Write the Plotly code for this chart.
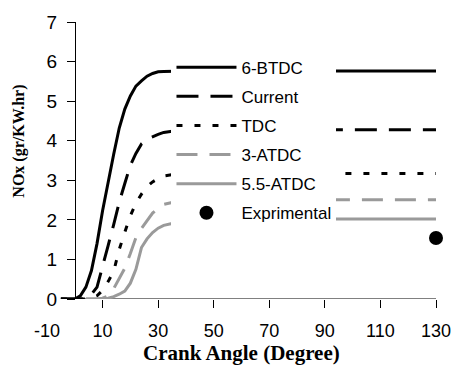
import plotly.graph_objects as go

# Crank angle grid (degrees) shared by the simulated curves
crank_angle = [-5, 0, 2, 4, 6, 8, 10, 12, 14, 16, 18, 20, 22, 24, 26, 28,
               30, 32, 35, 40, 50, 60, 80, 100, 130]

# Cumulative NOx (gr/KW.hr) for each injection timing
nox_6_btdc = [0, 0, 0.08, 0.3, 0.72, 1.4, 2.23, 2.98, 3.66, 4.32, 4.8, 5.13,
              5.38, 5.51, 5.63, 5.7, 5.74, 5.75, 5.76, 5.76, 5.76, 5.76,
              5.76, 5.76, 5.76]
nox_current = [0, 0, 0, 0.02, 0.12, 0.3, 0.8, 1.35, 1.88, 2.45, 2.92, 3.38,
               3.68, 3.92, 4.04, 4.11, 4.16, 4.21, 4.24, 4.26, 4.28, 4.28,
               4.28, 4.28, 4.28]
nox_tdc = [0, 0, 0, 0, 0.02, 0.08, 0.22, 0.44, 0.7, 1.25, 1.69, 2.1, 2.42,
           2.65, 2.84, 2.96, 3.04, 3.11, 3.14, 3.16, 3.17, 3.17, 3.17, 3.17,
           3.17]
nox_3_atdc = [None, None, None, 0, 0, 0, 0.02, 0.08, 0.26, 0.52, 0.78, 1.15,
              1.55, 1.78, 1.98, 2.17, 2.29, 2.39, 2.44, 2.48, 2.51, 2.51,
              2.51, 2.51, 2.51]
nox_5_5_atdc = [None, None, None, 0, 0, 0, 0, 0.02, 0.06, 0.12, 0.2, 0.4,
                0.75, 1.3, 1.52, 1.68, 1.79, 1.86, 1.91, 1.96, 2.0, 2.02,
                2.02, 2.02, 2.02]

# Measured value at the end of the cycle
exp_angle = [130]
exp_nox = [1.54]

x_ticks = [-10, 10, 30, 50, 70, 90, 110, 130]
x_tick_labels = ["-10", "10", "30", "50", "70", "90", "110", "130"]
x_tick_marks = [10, 30, 50, 70, 90, 110, 130]
y_ticks = [0, 1, 2, 3, 4, 5, 6, 7]

BLACK = "#000000"
GREY = "#9a9a9a"

series = [
    ("6-BTDC", nox_6_btdc, BLACK, "solid"),
    ("Current", nox_current, BLACK, "22px,12px"),
    ("TDC", nox_tdc, BLACK, "6px,12px"),
    ("3-ATDC", nox_3_atdc, GREY, "21px,12px"),
    ("5.5-ATDC", nox_5_5_atdc, GREY, "solid"),
]

fig = go.Figure()
for i, (name, values, color, dash) in enumerate(series):
    fig.add_trace(go.Scatter(
        x=crank_angle, y=values, name=name, mode="lines",
        line=dict(color=color, width=3, dash=dash),
        legendgroup=f"g{i}", connectgaps=False,
    ))

fig.add_trace(go.Scatter(
    x=exp_angle, y=exp_nox, name="Exprimental", mode="markers",
    marker=dict(color=BLACK, size=14, symbol="circle"),
    legendgroup="g5", cliponaxis=False,
))

# y axis crosses the x axis at 0 deg
y_cross = (0 - (-10)) / (130 - (-10))

fig.update_layout(
    width=463, height=365,
    margin=dict(l=47, r=17, t=16, b=66),
    paper_bgcolor="white", plot_bgcolor="white",
    font=dict(family="Liberation Sans, Arial, sans-serif", color=BLACK),
    showlegend=True,
    legend=dict(
        x=0.32, y=0.90, xanchor="left", yanchor="top",
        bgcolor="white", borderwidth=0,
        font=dict(size=17, family="Liberation Sans, Arial, sans-serif"),
        itemwidth=60, tracegroupgap=4,
    ),
    xaxis=dict(
        range=[-10, 130], tickvals=x_ticks, ticktext=x_tick_labels,
        ticks="", showline=False, showgrid=False, zeroline=False,
        tickfont=dict(size=18), ticklabelstandoff=19,
        minor=dict(tickmode="array", tickvals=x_tick_marks,
                   ticks="outside", ticklen=8, tickwidth=1,
                   tickcolor=BLACK, showgrid=False),
    ),
    yaxis=dict(
        range=[0, 7], tickvals=y_ticks, anchor="free", position=y_cross,
        ticks="outside", ticklen=8, tickwidth=1, tickcolor=BLACK,
        showline=True, linecolor=BLACK, linewidth=1,
        showgrid=False, zeroline=False, tickfont=dict(size=19),
        ticklabelstandoff=6,
    ),
    shapes=[
        # horizontal axis line, drawn from the y-axis crossing to the end
        dict(type="line", xref="x", yref="y", x0=0, x1=130, y0=0, y1=0,
             line=dict(color=BLACK, width=1), layer="below"),
    ],
    annotations=[
        dict(text="<b>Crank Angle (Degree)</b>", xref="paper", yref="paper",
             x=(246 - 47) / 399, y=(299 - 354) / 283, xanchor="center",
             yanchor="middle", showarrow=False, borderpad=0,
             font=dict(family="Liberation Serif, Times New Roman, serif",
                       size=21)),
        dict(text="<b>NOx (gr/KW.hr)</b>", xref="paper", yref="paper",
             x=(18 - 47) / 399, y=(299 - 137.5) / 283, xanchor="center",
             yanchor="middle", textangle=-90, showarrow=False,
             font=dict(family="Liberation Serif, Times New Roman, serif",
                       size=16)),
    ],
)

fig.write_html("out.html")
